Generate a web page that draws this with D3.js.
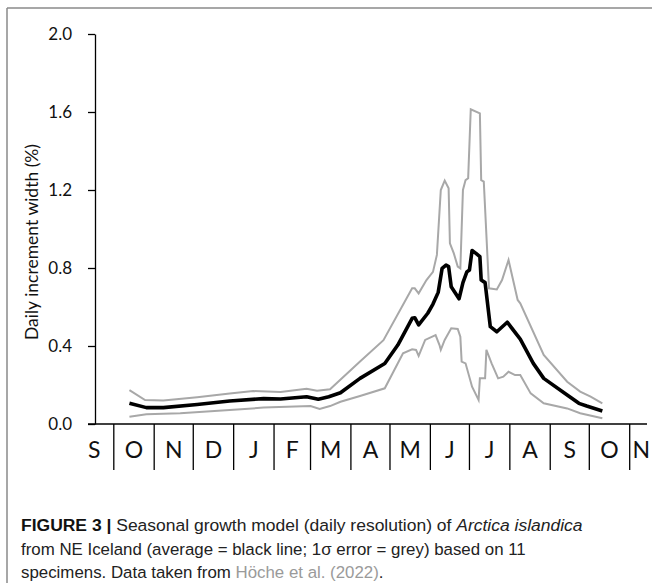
<!DOCTYPE html>
<html>
<head>
<meta charset="utf-8">
<script src="https://cdn.jsdelivr.net/npm/d3@7/dist/d3.min.js"></script>
<style>
  html, body { margin: 0; padding: 0; background: #fff; }
  svg { display: block; }
</style>
</head>
<body>
<svg id="chart" width="652" height="583"></svg>
<script>
// Seasonal growth model: days counted from 1 October of the first year
const monthLabels = ["S", "O", "N", "D", "J", "F", "M", "A", "M", "J", "J", "A", "S", "O", "N"];
const yTicks = [0, 0.4, 0.8, 1.2, 1.6, 2.0];

// Average daily increment width (%)
const meanDay = [12, 25, 38, 64, 89, 115, 128, 148, 157, 165, 174, 189, 208, 218, 229, 231, 234, 241, 245, 249, 252, 255, 257, 259, 265, 268, 271, 273, 275, 278, 281, 282, 285, 289, 294, 302, 312, 322, 330, 348, 357, 363, 375];
const meanVal = [0.106, 0.084, 0.084, 0.100, 0.118, 0.130, 0.128, 0.140, 0.127, 0.140, 0.160, 0.234, 0.310, 0.405, 0.542, 0.545, 0.508, 0.568, 0.615, 0.675, 0.798, 0.815, 0.807, 0.704, 0.642, 0.725, 0.780, 0.790, 0.890, 0.875, 0.858, 0.738, 0.725, 0.499, 0.473, 0.522, 0.435, 0.311, 0.234, 0.149, 0.106, 0.092, 0.067];

// Upper 1-sigma envelope
const upperDay = [12, 24, 38, 64, 89, 107, 128, 148, 156, 166, 189, 207, 229, 231, 234, 240, 245, 248, 251, 254, 257, 258, 261, 264, 266, 268, 270, 272, 274, 281, 282, 284, 288, 294, 298, 303, 310, 312, 330, 348, 358, 366, 375];
const upperVal = [0.174, 0.123, 0.120, 0.137, 0.157, 0.169, 0.164, 0.181, 0.171, 0.178, 0.320, 0.430, 0.696, 0.696, 0.670, 0.738, 0.780, 0.867, 1.200, 1.248, 1.209, 0.927, 0.875, 0.807, 0.798, 1.200, 1.251, 1.260, 1.614, 1.593, 1.251, 1.243, 0.696, 0.690, 0.738, 0.841, 0.636, 0.619, 0.354, 0.217, 0.166, 0.140, 0.106];

// Lower 1-sigma envelope
const lowerDay = [12, 25, 51, 89, 115, 151, 158, 166, 174, 189, 208, 222, 229, 232, 234, 239, 247, 250, 251, 254, 259, 264, 266, 267, 270, 275, 280, 281, 285, 286, 290, 295, 299, 303, 308, 312, 320, 330, 348, 358, 375];
const lowerVal = [0.037, 0.050, 0.055, 0.072, 0.084, 0.092, 0.077, 0.092, 0.114, 0.144, 0.183, 0.363, 0.383, 0.380, 0.349, 0.431, 0.456, 0.405, 0.380, 0.431, 0.491, 0.487, 0.448, 0.320, 0.311, 0.191, 0.123, 0.234, 0.234, 0.380, 0.311, 0.234, 0.243, 0.268, 0.251, 0.251, 0.157, 0.106, 0.080, 0.055, 0.029];

const origin = new Date(2021, 9, 1); // 1 October
const dayToDate = d => d3.timeDay.offset(origin, d);

const svg = d3.select("#chart");

// light frame around the figure panel
svg.append("line").attr("x1", 7).attr("x2", 652).attr("y1", 8).attr("y2", 8)
  .attr("stroke", "#8a8a8a").attr("stroke-width", 1.5);
svg.append("line").attr("x1", 7).attr("x2", 7).attr("y1", 8).attr("y2", 583)
  .attr("stroke", "#8a8a8a").attr("stroke-width", 1.5);

const x = d3.scaleTime()
  .domain([new Date(2021, 9, 1), new Date(2022, 10, 1)])
  .range([113.8, 629.7]);
const y = d3.scaleLinear().domain([0, 2]).range([424, 34]);

const axisLeftX = 95, axisStart = 88, axisEnd = 647, sepBottom = 470;

// y axis
const yAxis = svg.append("g")
  .attr("transform", `translate(${axisLeftX},0)`)
  .call(d3.axisLeft(y).tickValues(yTicks).tickFormat(d3.format(".1f"))
    .tickSizeInner(7).tickSizeOuter(0).tickPadding(16));
yAxis.select(".domain").attr("stroke", "#000").attr("stroke-width", 1.3);
yAxis.selectAll(".tick line").attr("stroke", "#000").attr("stroke-width", 1.3);
yAxis.selectAll(".tick text")
  .attr("font-family", "Lato, 'Open Sans', sans-serif")
  .attr("font-size", 17).attr("fill", "#111");

// y title
svg.append("text")
  .attr("transform", "translate(38,242) rotate(-90)")
  .attr("text-anchor", "middle")
  .attr("font-family", "Lato, 'Open Sans', sans-serif")
  .attr("font-size", 17.5).attr("fill", "#111")
  .text("Daily increment width (%)");

// x axis baseline
svg.append("line")
  .attr("x1", axisStart).attr("x2", axisEnd)
  .attr("y1", y(0)).attr("y2", y(0))
  .attr("stroke", "#000").attr("stroke-width", 1.3);

// month separators
const monthStarts = d3.timeMonth.range(new Date(2021, 9, 1), new Date(2022, 10, 2));
svg.append("g").selectAll("line").data(monthStarts).join("line")
  .attr("x1", d => x(d)).attr("x2", d => x(d))
  .attr("y1", y(0)).attr("y2", sepBottom)
  .attr("stroke", "#000").attr("stroke-width", 1.3);

// month initials centred in each month band
const months = d3.timeMonth.range(new Date(2021, 8, 1), new Date(2022, 11, 1));
svg.append("g").selectAll("text").data(months).join("text")
  .attr("x", d => {
    const a = Math.max(x(d), axisStart - 16);
    const b = Math.min(x(d3.timeMonth.offset(d, 1)), axisEnd + 6);
    return (a + b) / 2;
  })
  .attr("y", 458)
  .attr("text-anchor", "middle")
  .attr("font-family", "Lato, 'Open Sans', sans-serif")
  .attr("font-size", 23).attr("fill", "#111")
  .text((d, i) => monthLabels[i]);

const line = d3.line().x(d => x(dayToDate(d[0]))).y(d => y(d[1]));

svg.append("path").datum(d3.zip(upperDay, upperVal))
  .attr("d", line).attr("fill", "none").attr("stroke", "#a8a8a8").attr("stroke-width", 2);
svg.append("path").datum(d3.zip(lowerDay, lowerVal))
  .attr("d", line).attr("fill", "none").attr("stroke", "#a8a8a8").attr("stroke-width", 2);
svg.append("path").datum(d3.zip(meanDay, meanVal))
  .attr("d", line).attr("fill", "none").attr("stroke", "#000").attr("stroke-width", 3.6)
  .attr("stroke-linejoin", "round");

// caption, each line narrowed horizontally to a condensed measure
const cap = svg.append("g")
  .attr("font-family", "'Liberation Sans Narrow', 'Liberation Sans', Arial, sans-serif")
  .attr("font-size", 17).attr("fill", "#222");
function captionLine(baseline) {
  const g = cap.append("g");
  const t = g.append("text").attr("x", 0).attr("y", baseline);
  return { t, squeeze: s => g.attr("transform", `translate(21,0) scale(${s},1)`),
           width: () => t.node().getComputedTextLength() };
}
const c1 = captionLine(531);
c1.t.append("tspan").attr("font-weight", "bold").attr("fill", "#111").text("FIGURE 3 | ");
c1.t.append("tspan").text("Seasonal growth model (daily resolution) of ");
c1.t.append("tspan").attr("font-style", "italic").text("Arctica islandica");
c1.squeeze(562 / c1.width());
const c2 = captionLine(555);
c2.t.text("from NE Iceland (average = black line; 1\u03c3 error = grey) based on 11");
const s2 = 505 / c2.width();
c2.squeeze(s2);
const c3 = captionLine(578);
c3.t.append("tspan").text("specimens. Data taken from ");
c3.t.append("tspan").attr("fill", "#9a9a9a").text("Höche et al. (2022)");
c3.t.append("tspan").text(".");
c3.squeeze(s2);
</script>
</body>
</html>
